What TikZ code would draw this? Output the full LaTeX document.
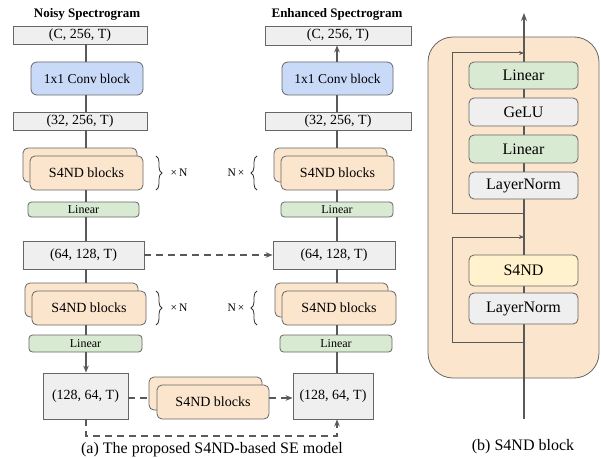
\documentclass[tikz,border=0pt]{standalone}
\usepackage{fontspec}
\setmainfont{Liberation Serif}
\newfontfamily\tmsfont{Liberation Serif}
\usetikzlibrary{arrows.meta,decorations.pathreplacing}
\definecolor{lgray}{HTML}{EFEFEF}
\definecolor{lblue}{HTML}{C9DAF8}
\definecolor{lgreen}{HTML}{D9EAD3}
\definecolor{lorange}{HTML}{FCE5CD}
\definecolor{lyellow}{HTML}{FFF2CC}
\definecolor{edgec}{HTML}{666666}
\definecolor{wirec}{HTML}{595959}
\begin{document}
\begin{tikzpicture}[x=1pt,y=-1pt,
  box/.style={draw=edgec, line width=0.8pt, inner sep=0pt, font=\tmsfont\fontsize{14}{16}\selectfont},
  grayb/.style={box, fill=lgray},
  blueb/.style={box, fill=lblue, rounded corners=6pt, font=\tmsfont\fontsize{13.5}{16}\selectfont},
  greenb/.style={box, fill=lgreen, rounded corners=3.5pt, font=\tmsfont\fontsize{12}{14}\selectfont},
  s4b/.style={box, fill=lorange, rounded corners=5pt},
  bigbox/.style={box, font=\tmsfont\fontsize{16}{18}\selectfont, rounded corners=5pt},
  wire/.style={draw=wirec, line width=1.2pt},
  dwire/.style={wire, dash pattern=on 7pt off 5pt},
  arrw/.style={-{Stealth[length=7pt,width=5.5pt]}},
  sarrw/.style={-{Stealth[length=5pt,width=4pt]}},
  ttl/.style={font=\tmsfont\bfseries\fontsize{13}{15}\selectfont},
  captxt/.style={font=\tmsfont\fontsize{16}{18}\selectfont},
  reptxt/.style={font=\tmsfont\fontsize{11.5}{13}\selectfont},
  brc/.style={draw=black!80, line width=0.8pt, decorate, decoration={brace, amplitude=6pt}}
]
\useasboundingbox (0,0) rectangle (601,457);

% ---------- titles ----------
\node[ttl] (tL) at (87,14) {Noisy Spectrogram};
\node[ttl] (tR) at (337,14) {Enhanced Spectrogram};

% ---------- left column ----------
\coordinate (xL) at (86,0);
\node[grayb, minimum width=134, minimum height=18] (cL) at (80,35) {(C, 256, T)};
\node[blueb, minimum width=112, minimum height=33] (convL) at (87,78.5) {1x1 Conv block};
\node[grayb, minimum width=134, minimum height=18] (c32L) at (80,121) {(32, 256, T)};
\node[s4b, minimum width=114, minimum height=34] (s4L1b) at (80,165) {};
\node[s4b, minimum width=113, minimum height=34] (s4L1) at (86.5,173) {S4ND blocks};
\node[greenb, minimum width=111, minimum height=15] (linL) at (83.5,209.5) {Linear};
\node[grayb, minimum width=121, minimum height=28] (c64L) at (83.5,255) {(64, 128, T)};
\node[s4b, minimum width=113, minimum height=34] (s4L2b) at (81.5,300) {};
\node[s4b, minimum width=114, minimum height=34] (s4L2) at (89,308) {S4ND blocks};
\node[greenb, minimum width=113, minimum height=17] (linL2) at (85.5,343.5) {Linear};
\node[grayb, minimum width=85, minimum height=46] (c128L) at (85.5,396) {(128, 64, T)};

\draw[wire] (cL.south -| xL) -- (convL.north -| xL);
\draw[wire] (convL.south -| xL) -- (c32L.north -| xL);
\draw[wire] (c32L.south -| xL) -- (s4L1b.north -| xL);
\draw[wire] (s4L1.south -| xL) -- (linL.north -| xL);
\draw[wire] (linL.south -| xL) -- (c64L.north -| xL);
\draw[wire] (c64L.south -| xL) -- (s4L2b.north -| xL);
\draw[wire] (s4L2.south -| xL) -- (linL2.north -| xL);
\draw[wire, arrw] (linL2.south -| xL) -- (c128L.north -| xL);

% ---------- right column ----------
\coordinate (xR) at (337,0);
\node[grayb, minimum width=146, minimum height=19] (cR) at (338,35.5) {(C, 256, T)};
\node[blueb, minimum width=111, minimum height=33] (convR) at (337.5,78.5) {1x1 Conv block};
\node[grayb, minimum width=146, minimum height=18] (c32R) at (338,121) {(32, 256, T)};
\node[s4b, minimum width=113, minimum height=34] (s4R1b) at (330.5,165) {};
\node[s4b, minimum width=113, minimum height=34] (s4R1) at (337.5,173) {S4ND blocks};
\node[greenb, minimum width=112, minimum height=15] (linR) at (337,209.5) {Linear};
\node[grayb, minimum width=122, minimum height=28] (c64R) at (334,255) {(64, 128, T)};
\node[s4b, minimum width=113, minimum height=34] (s4R2b) at (331.5,300) {};
\node[s4b, minimum width=114, minimum height=34] (s4R2) at (339,308) {S4ND blocks};
\node[greenb, minimum width=112, minimum height=17] (linR2) at (336,343.5) {Linear};
\node[grayb, minimum width=80, minimum height=46] (c128R) at (333,396) {(128, 64, T)};

\draw[wire, arrw] (convR.north -| xR) -- (cR.south -| xR);
\draw[wire] (c32R.north -| xR) -- (convR.south -| xR);
\draw[wire] (s4R1b.north -| xR) -- (c32R.south -| xR);
\draw[wire] (linR.north -| xR) -- (s4R1.south -| xR);
\draw[wire] (c64R.north -| xR) -- (linR.south -| xR);
\draw[wire] (s4R2b.north -| xR) -- (c64R.south -| xR);
\draw[wire] (linR2.north -| xR) -- (s4R2.south -| xR);
\draw[wire] (c128R.north -| xR) -- (linR2.south -| xR);

% ---------- middle ----------
\node[s4b, minimum width=113, minimum height=33] (s4Mb) at (205.5,393.5) {};
\node[s4b, minimum width=112, minimum height=34] (s4M) at (213,402) {S4ND blocks};

\coordinate (yM) at (0,398);
\draw[dwire, arrw] (c64L.east) -- (c64R.west);
\draw[dwire] (c128L.east |- yM) -- (s4Mb.west |- yM);
\draw[dwire, arrw] (s4M.east |- yM) -- (c128R.west |- yM);
\coordinate (yB) at (0,436);
\draw[dwire, arrw] (c128L.south -| xL) -- (yB -| xL) -- (yB -| xR) -- (c128R.south -| xR);

% ---------- braces ----------
\draw[brc] (156,156) -- (156,190);
\node[reptxt] (nL1) at (179,173) {×\,N};
\draw[brc] (156,291) -- (156,325);
\node[reptxt] (nL2) at (179,308) {×\,N};
\draw[brc] (257,190) -- (257,156);
\node[reptxt] (nR1) at (236,173) {N\,×};
\draw[brc] (257,325) -- (257,291);
\node[reptxt] (nR2) at (236,308) {N\,×};

\node[captxt] (capA) at (212,449.5) {(a) The proposed S4ND-based SE model};

% ---------- right panel ----------
\node[draw=edgec, line width=0.8pt, fill=lorange, rounded corners=25pt,
      minimum width=171, minimum height=341, inner sep=0pt] (blk) at (513.5,207.5) {};
\coordinate (bIn) at (524,419);
\coordinate (bOut) at (524,13);
\draw[wire, -{Stealth[length=8pt,width=6pt]}] (bIn) -- (bOut);

\coordinate (l1s) at (524,213);
\coordinate (l1e) at (524,53);
\coordinate (lx) at (452,0);
\draw[wire, line width=1pt, sarrw] (l1s) -- (l1s -| lx) -- (l1e -| lx) -- (l1e);
\coordinate (l2s) at (524,342);
\coordinate (l2e) at (524,237);
\draw[wire, line width=1pt, sarrw] (l2s) -- (l2s -| lx) -- (l2e -| lx) -- (l2e);

\node[bigbox, fill=lgreen, minimum width=109, minimum height=27] (rLin1) at (523.5,75.5) {Linear};
\node[bigbox, fill=lgray, minimum width=109, minimum height=28] (rGelu) at (523.5,112) {GeLU};
\node[bigbox, fill=lgreen, minimum width=109, minimum height=28] (rLin2) at (523.5,149) {Linear};
\node[bigbox, fill=lgray, minimum width=109, minimum height=27] (rLN1) at (523.5,185.5) {LayerNorm};
\node[bigbox, fill=lyellow, minimum width=109, minimum height=31] (rS4) at (523.5,270.5) {S4ND};
\node[bigbox, fill=lgray, minimum width=109, minimum height=31] (rLN2) at (523.5,308.5) {LayerNorm};

\node[captxt] (capB) at (523,447) {(b) S4ND block};
\end{tikzpicture}
\end{document}
